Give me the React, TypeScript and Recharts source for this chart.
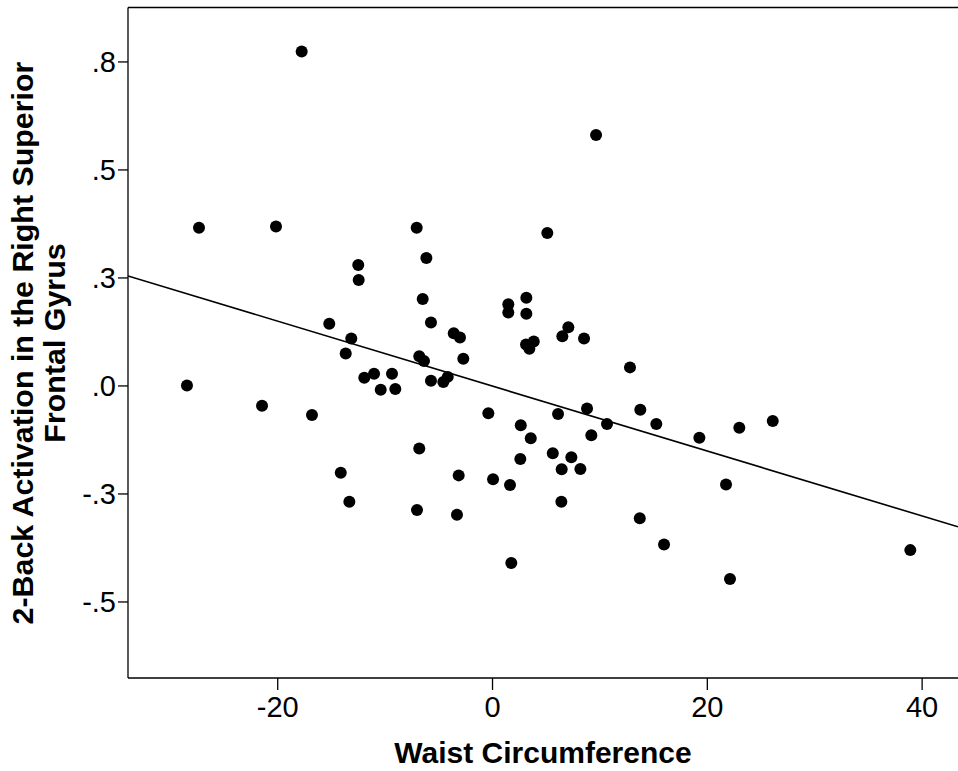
import {
    ReferenceLine,
    Scatter,
    ScatterChart,
    XAxis,
    YAxis,
} from "recharts";

// waist circumference (centred) per subject
const waist = [
    -17.77, 9.64, -27.33, -20.16, -12.5, -12.46, -15.2, -13.15, -13.67, -11.94,
    -11.03, -9.36, -10.41, -9.05, -28.45, -7.06, 5.1, -6.16, -6.5, -5.73,
    -3.61, -3.03, -2.72, -6.82, -6.38, -5.73, -4.58, -4.17, 1.47, 1.47,
    3.15, 3.15, 3.12, 3.84, 3.43, 7.06, 6.5, 8.52, 12.8, -0.39,
    6.1, 8.8, 13.76, 10.66, 2.63, 3.56, 9.2, -6.82, 2.59, 5.61,
    7.34, 6.44, 8.18, -3.15, 0.05, 1.63, -7.03, -3.31, 6.41, 13.71,
    1.75, 15.25, 19.26, 22.98, 26.09, 21.74, 15.97, 22.11, 38.9, -21.46,
    -16.81, -14.13, -13.33,
];

// 2-back activation, same order as waist
const activation = [
    0.774, 0.581, 0.366, 0.369, 0.28, 0.245, 0.144, 0.11, 0.075, 0.019,
    0.028, 0.028, -0.009, -0.007, 0.001, 0.366, 0.354, 0.296, 0.201, 0.147,
    0.122, 0.112, 0.063, 0.069, 0.058, 0.012, 0.009, 0.021, 0.189, 0.17,
    0.204, 0.167, 0.096, 0.103, 0.086, 0.136, 0.115, 0.11, 0.043, -0.063,
    -0.065, -0.052, -0.055, -0.088, -0.091, -0.121, -0.114, -0.145, -0.169, -0.156,
    -0.165, -0.193, -0.192, -0.207, -0.216, -0.229, -0.287, -0.298, -0.268, -0.306,
    -0.41, -0.088, -0.12, -0.097, -0.081, -0.228, -0.367, -0.447, -0.38, -0.046,
    -0.067, -0.201, -0.268,
];

// fit line ends
const fitX = [-33.94, 43.34];
const fitY = [0.2546, -0.326];

const xDomain = [-33.94, 43.34];
const yDomain = [-0.676, 0.876];
const xTicks = [-20, 0, 20, 40];
const yTicks = [-0.5, -0.25, 0, 0.25, 0.5, 0.75];

const points = waist.map((x, i) => ({ x, y: activation[i] }));
const fitLine = fitX.map((x, i) => ({ x, y: fitY[i] }));

const font = "'Liberation Sans', Arial, sans-serif";

// SPSS style: one decimal, no leading zero
const fmtY = (v: number) => v.toFixed(1).replace("0.", ".");

const Dot = (props: any) => (
    <circle cx={props.cx} cy={props.cy} r={6} fill="#000" />
);

const YTitle = () => (
    <text
        transform="translate(0,343) rotate(-90)"
        textAnchor="middle"
        fontFamily={font}
        fontWeight="bold"
        fontSize={30.4}
        fill="#000"
    >
        <tspan x={0} y={33}>2-Back Activation in the Right Superior</tspan>
        <tspan x={0} y={65}>Frontal Gyrus</tspan>
    </text>
);

export default function App() {
    return (
        <div style={{ position: "absolute", left: 0, top: 0, background: "#fff" }}>
            <ScatterChart
                width={958}
                height={771}
                margin={{ top: 7.5, right: 0, bottom: 0, left: 0 }}
            >
                <XAxis
                    type="number"
                    dataKey="x"
                    domain={xDomain}
                    allowDataOverflow
                    ticks={xTicks}
                    height={93}
                    tickSize={12}
                    tickMargin={6}
                    stroke="#000"
                    strokeWidth={1.3}
                    tick={{ fill: "#000", fontSize: 29, fontFamily: font }}
                    label={{
                        value: "Waist Circumference",
                        position: "insideBottom",
                        offset: 8,
                        fill: "#000",
                        fontSize: 30,
                        fontWeight: "bold",
                        fontFamily: font,
                    }}
                />
                <YAxis
                    type="number"
                    dataKey="y"
                    domain={yDomain}
                    allowDataOverflow
                    ticks={yTicks}
                    tickFormatter={fmtY}
                    width={128}
                    tickSize={10}
                    tickMargin={2}
                    stroke="#000"
                    strokeWidth={1.3}
                    tick={{ fill: "#000", fontSize: 29, fontFamily: font }}
                    label={{ content: () => <YTitle /> }}
                />
                <ReferenceLine y={yDomain[1]} stroke="#000" strokeWidth={1.6} />
                <Scatter
                    data={fitLine}
                    line={{ stroke: "#000", strokeWidth: 1.6 }}
                    shape={() => <g />}
                    legendType="none"
                    isAnimationActive={false}
                />
                <Scatter
                    data={points}
                    shape={Dot}
                    isAnimationActive={false}
                />
            </ScatterChart>
        </div>
    );
}
